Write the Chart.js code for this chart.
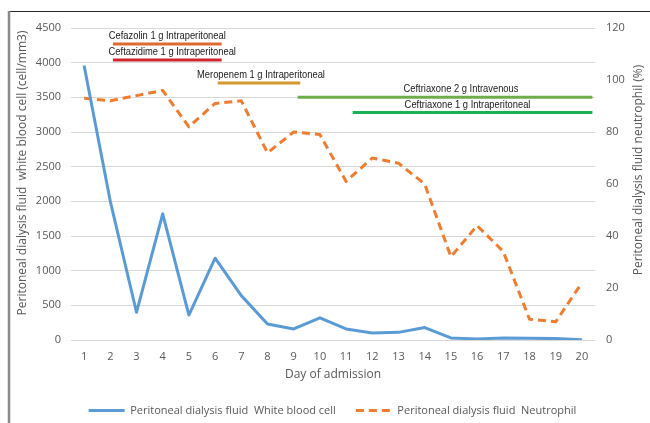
<!DOCTYPE html>
<html>
<head>
<meta charset="utf-8">
<script src="https://cdn.jsdelivr.net/npm/chart.js@4.4.0/dist/chart.umd.min.js"></script>
<style>
  html, body { margin: 0; padding: 0; background: #fff; }
  #wrap { width: 650px; height: 423px; }
</style>
</head>
<body>
<div id="wrap"><canvas id="chart" width="650" height="423"></canvas></div>
<script>
const days = ['1', '2', '3', '4', '5', '6', '7', '8', '9', '10',
  '11', '12', '13', '14', '15', '16', '17', '18', '19', '20'];
const wbcCount = [3960, 2000, 400, 1820, 360, 1180, 640, 230, 160, 320,
  160, 100, 110, 180, 30, 15, 30, 25, 20, 5];
const neutrophilPct = [93, 92, 94, 96, 82, 91, 92, 72, 80, 79,
  61, 70, 68, 60, 32, 44, 34, 8, 7, 22];
const wbcTicks = [0, 500, 1000, 1500, 2000, 2500, 3000, 3500, 4000, 4500];
const pctTicks = [0, 20, 40, 60, 80, 100, 120];

// antibiotic periods (day of admission) and the height they sit at on the cell axis
const treatmentNames = [
  'Cefazolin 1 g Intraperitoneal',
  'Ceftazidime 1 g Intraperitoneal',
  'Meropenem 1 g Intraperitoneal',
  'Ceftriaxone 2 g Intravenous',
  'Ceftriaxone 1 g Intraperitoneal'
];
const treatmentStart = [2.1, 2.1, 6.1, 9.15, 11.25];
const treatmentEnd = [6.25, 6.25, 9.25, 20.4, 20.4];
const treatmentLevel = [4270, 4040, 3705, 3500, 3280];

const treatmentColors = ['#DC6A32', '#D1262E', '#D49A2F', '#6DAE4A', '#1AB255'];
const labelShift = [0, 5, 2, 16, -5];

const grey = '#595959';
const tickFont = { family: '"Open Sans", sans-serif', size: 11 };

const datasets = [
  {
    label: 'Peritoneal dialysis fluid  White blood cell',
    data: wbcCount,
    borderColor: '#5B9BD5',
    backgroundColor: '#5B9BD5',
    borderWidth: 3,
    pointRadius: 0,
    borderJoinStyle: 'round',
    xAxisID: 'x',
    yAxisID: 'y'
  },
  {
    label: 'Peritoneal dialysis fluid  Neutrophil',
    data: neutrophilPct,
    borderColor: '#ED7D31',
    backgroundColor: '#ED7D31',
    borderWidth: 3,
    borderDash: [8, 5],
    pointRadius: 0,
    borderJoinStyle: 'round',
    xAxisID: 'x',
    yAxisID: 'y1'
  }
];

treatmentNames.forEach((name, i) => {
  datasets.push({
    label: name,
    data: [{ x: treatmentStart[i], y: treatmentLevel[i] }, { x: treatmentEnd[i], y: treatmentLevel[i] }],
    borderColor: treatmentColors[i],
    borderWidth: 3,
    pointRadius: 0,
    xAxisID: 'xa',
    yAxisID: 'y'
  });
});

const decorations = {
  id: 'decorations',
  beforeDraw(chart) {
    const c = chart.ctx;
    c.save();
    c.fillStyle = '#fff';
    c.fillRect(0, 0, chart.width, chart.height);
    c.strokeStyle = '#262626';
    c.lineWidth = 1;
    c.beginPath();
    c.moveTo(8, 11.5);
    c.lineTo(chart.width, 11.5);
    c.stroke();
    c.strokeStyle = '#8a8a8a';
    c.lineWidth = 2.5;
    c.beginPath();
    c.moveTo(9, 11);
    c.lineTo(9, chart.height);
    c.stroke();
    c.restore();
  },
  afterDatasetsDraw(chart) {
    const c = chart.ctx;
    const xa = chart.scales.xa;
    const y = chart.scales.y;
    treatmentNames.forEach((name, i) => {
      const mid = (xa.getPixelForValue(treatmentStart[i]) + xa.getPixelForValue(treatmentEnd[i])) / 2;
      c.save();
      c.font = '11px "Liberation Sans", Arial, sans-serif';
      c.fillStyle = '#1a1a1a';
      c.textAlign = 'center';
      c.textBaseline = 'middle';
      c.translate(mid + labelShift[i], y.getPixelForValue(treatmentLevel[i]) - 8);
      c.scale(0.85, 1);
      c.fillText(name, 0, 0);
      c.restore();
    });
  },
  afterDraw(chart) {
    const c = chart.ctx;
    const area = chart.chartArea;
    c.save();
    c.fillStyle = grey;
    c.textAlign = 'center';
    c.textBaseline = 'middle';
    c.font = '12px "Open Sans", sans-serif';
    c.fillText('Day of admission', (area.left + area.right) / 2, 375);

    c.translate(23, 173);
    c.rotate(-Math.PI / 2);
    c.fillText('Peritoneal dialysis fluid  white blood cell (cell/mm3)', 0, 0);
    c.restore();

    c.save();
    c.fillStyle = grey;
    c.textAlign = 'center';
    c.textBaseline = 'middle';
    c.font = '12px "Open Sans", sans-serif';
    c.translate(639, 170);
    c.rotate(-Math.PI / 2);
    c.fillText('Peritoneal dialysis fluid neutrophil (%)', 0, 0);
    c.restore();
  }
};

new Chart(document.getElementById('chart'), {
  type: 'line',
  data: { labels: days, datasets: datasets },
  plugins: [decorations],
  options: {
    responsive: false,
    animation: false,
    devicePixelRatio: 1,
    layout: { padding: { left: 15, right: 0, top: 28, bottom: -3 } },
    scales: {
      x: {
        type: 'category',
        offset: true,
        grid: { display: false },
        border: { display: false },
        ticks: { color: grey, font: tickFont, padding: 2, maxRotation: 0 },
        afterFit(scale) { scale.height = 45; }
      },
      xa: {
        type: 'linear',
        display: false,
        min: 0.5,
        max: 20.5
      },
      y: {
        position: 'left',
        min: 0,
        max: 4500,
        grid: { color: '#d9d9d9', drawTicks: false },
        border: { display: false },
        ticks: { color: grey, font: tickFont, padding: 10, callback: v => String(v) },
        afterBuildTicks(scale) { scale.ticks = wbcTicks.map(v => ({ value: v })); },
        afterFit(scale) { scale.width = 56; }
      },
      y1: {
        position: 'right',
        min: 0,
        max: 120,
        grid: { display: false, drawTicks: false },
        border: { display: false },
        ticks: { color: grey, font: tickFont, padding: 11, callback: v => String(v) },
        afterBuildTicks(scale) { scale.ticks = pctTicks.map(v => ({ value: v })); },
        afterFit(scale) { scale.width = 55; }
      }
    },
    plugins: {
      tooltip: { enabled: false },
      legend: {
        position: 'bottom',
        labels: {
          filter: item => item.datasetIndex < 2,
          generateLabels(chart) {
            const items = Chart.defaults.plugins.legend.labels.generateLabels(chart);
            items.forEach(item => {
              const ds = chart.data.datasets[item.datasetIndex];
              item.lineDash = ds.borderDash || [];
              item.lineWidth = ds.borderWidth;
              item.strokeStyle = ds.borderColor;
            });
            return items;
          },
          usePointStyle: true,
          pointStyle: 'line',
          pointStyleWidth: 36,
          padding: 20,
          color: grey,
          font: tickFont
        }
      }
    }
  }
});
</script>
</body>
</html>
